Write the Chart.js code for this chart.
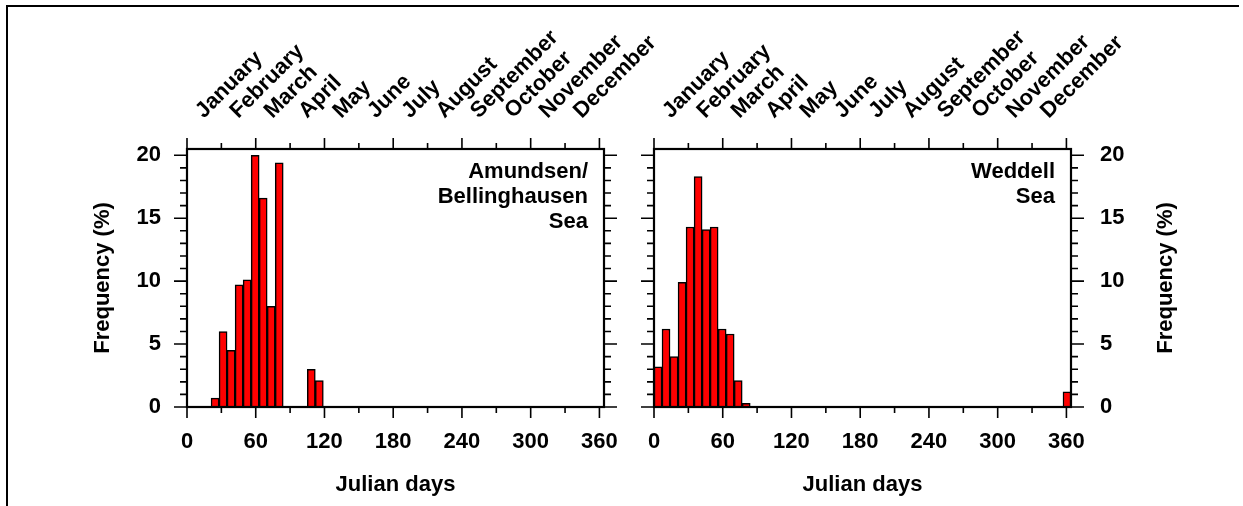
<!DOCTYPE html>
<html>
<head>
<meta charset="utf-8">
<title>Julian day frequency</title>
<script src="https://cdn.jsdelivr.net/npm/chart.js@4"></script>
<style>
  html, body { margin: 0; padding: 0; background: #fff; }
  body { width: 1243px; height: 506px; position: relative; overflow: hidden; }
  #frame { position: absolute; left: 6px; top: 5px; width: 1231px; height: 520px; border-top: 2px solid #000; border-left: 2px solid #000; }
  canvas { position: absolute; top: 0; }
  #amundsen { left: 0; }
  #weddell { left: 625px; }
</style>
</head>
<body>
<div id="frame"></div>
<canvas id="amundsen" width="664" height="506"></canvas>
<canvas id="weddell" width="618" height="506"></canvas>
<script>
const monthNames = ["January", "February", "March", "April", "May", "June",
    "July", "August", "September", "October", "November", "December"];
const monthTicks = [15, 45, 75, 105, 135, 165, 195, 225, 255, 285, 315, 345];
const dayTicks = [0, 60, 120, 180, 240, 300, 360];
const freqTicks = [0, 5, 10, 15, 20];

// weekly bins, first day of each bin
const amundsenBins = [21, 28, 35, 42, 49, 56, 63, 70, 77, 105, 112];
const amundsenFreq = [0.7, 6.0, 4.5, 9.7, 10.1, 20.0, 16.6, 8.0, 19.4, 3.0, 2.1];

const weddellBins = [0, 7, 14, 21, 28, 35, 42, 49, 56, 63, 70, 77, 357];
const weddellFreq = [3.2, 6.2, 4.0, 9.9, 14.3, 18.3, 14.1, 14.3, 6.2, 5.8, 2.1, 0.3, 1.2];

const FAMILY = "'Liberation Sans', Arial, Helvetica, sans-serif";
const font = { family: FAMILY, weight: "bold", size: 22 };
const monthFont = { family: FAMILY, weight: "bold", size: 22 };

Chart.defaults.color = "#000";

// plot box, outward tick marks, region label and the right-hand axis title
const frameTicks = {
    id: "frameTicks",
    afterDraw(chart, args, opts) {
        const { ctx, chartArea: a, scales } = chart;
        const x = scales.x;
        const y = scales.y;
        ctx.save();
        ctx.strokeStyle = "#000";
        ctx.lineWidth = 1.6;
        ctx.beginPath();
        for (let d = 0; d <= 360; d += 30) {
            const px = x.getPixelForValue(d);
            const len = d % 60 === 0 ? 11 : 6;
            ctx.moveTo(px, a.bottom);
            ctx.lineTo(px, a.bottom + len);
            ctx.moveTo(px, a.top);
            ctx.lineTo(px, a.top - len);
        }
        for (let v = 0; v <= 20; v++) {
            const py = y.getPixelForValue(v);
            const len = v % 5 === 0 ? 13 : 7;
            ctx.moveTo(a.left, py);
            ctx.lineTo(a.left - len, py);
            ctx.moveTo(a.right, py);
            ctx.lineTo(a.right + len, py);
        }
        ctx.stroke();
        ctx.lineWidth = 2.2;
        ctx.strokeRect(a.left, a.top, a.right - a.left, a.bottom - a.top);

        ctx.fillStyle = "#000";
        ctx.font = "bold 22px " + FAMILY;
        ctx.textAlign = "right";
        ctx.textBaseline = "middle";
        opts.lines.forEach((line, i) => {
            ctx.fillText(line, a.right - 16, a.top + 23 + i * 25);
        });

        if (opts.rightTitle) {
            ctx.translate(y.left + 95, (a.top + a.bottom) / 2);
            ctx.rotate(-Math.PI / 2);
            ctx.textAlign = "center";
            ctx.fillText(opts.rightTitle, 0, 0);
        }
        ctx.restore();
    },
};

function makeChart(id, bins, freq, side, lines) {
    const onRight = side === "right";
    return new Chart(document.getElementById(id), {
        type: "bar",
        data: {
            datasets: [{
                data: bins.map((b, i) => ({ x: b + 3.5, y: freq[i] })),
                xAxisID: "x",
                yAxisID: "y",
                backgroundColor: "#ff0000",
                borderColor: "#000",
                borderWidth: 1.5,
                barPercentage: 1,
                categoryPercentage: 1,
            }],
        },
        options: {
            responsive: false,
            animation: false,
            events: [],
            layout: { padding: onRight ? { left: 29, right: 0 } : { left: 0, right: 60 } },
            plugins: {
                legend: { display: false },
                tooltip: { enabled: false },
                frameTicks: { lines: lines, rightTitle: onRight ? "Frequency (%)" : null },
            },
            scales: {
                x: {
                    type: "linear",
                    position: "bottom",
                    min: 0,
                    max: 364,
                    offset: false,
                    grid: { display: false },
                    border: { display: false },
                    ticks: { font: font, padding: 14, maxRotation: 0, autoSkip: false },
                    afterBuildTicks: (s) => { s.ticks = dayTicks.map((v) => ({ value: v })); },
                    afterFit: (s) => { s.height = 99; s.paddingLeft = 0; s.paddingRight = 0; },
                    title: { display: true, text: "Julian days", font: font, padding: { top: 0, bottom: 8 } },
                },
                month: {
                    type: "linear",
                    position: "top",
                    min: 0,
                    max: 364,
                    offset: false,
                    grid: { display: false },
                    border: { display: false },
                    ticks: {
                        font: monthFont,
                        padding: 17,
                        labelOffset: 14,
                        minRotation: 45,
                        maxRotation: 45,
                        autoSkip: false,
                        callback: (v, i) => monthNames[i],
                    },
                    afterBuildTicks: (s) => { s.ticks = monthTicks.map((v) => ({ value: v })); },
                    afterFit: (s) => { s.height = 149; s.paddingLeft = 0; s.paddingRight = 0; },
                },
                y: {
                    type: "linear",
                    position: side,
                    min: 0,
                    max: 20.5,
                    grid: { display: false },
                    border: { display: false },
                    ticks: { font: font, padding: onRight ? 21 : 18 },
                    afterBuildTicks: (s) => { s.ticks = freqTicks.map((v) => ({ value: v })); },
                    afterFit: (s) => { s.width = onRight ? 172 : 187; },
                    title: { display: !onRight, text: "Frequency (%)", font: font, padding: { top: 90, bottom: 0 } },
                },
            },
        },
        plugins: [frameTicks],
    });
}

makeChart("amundsen", amundsenBins, amundsenFreq, "left", ["Amundsen/", "Bellinghausen", "Sea"]);
makeChart("weddell", weddellBins, weddellFreq, "right", ["Weddell", "Sea"]);
</script>
</body>
</html>
